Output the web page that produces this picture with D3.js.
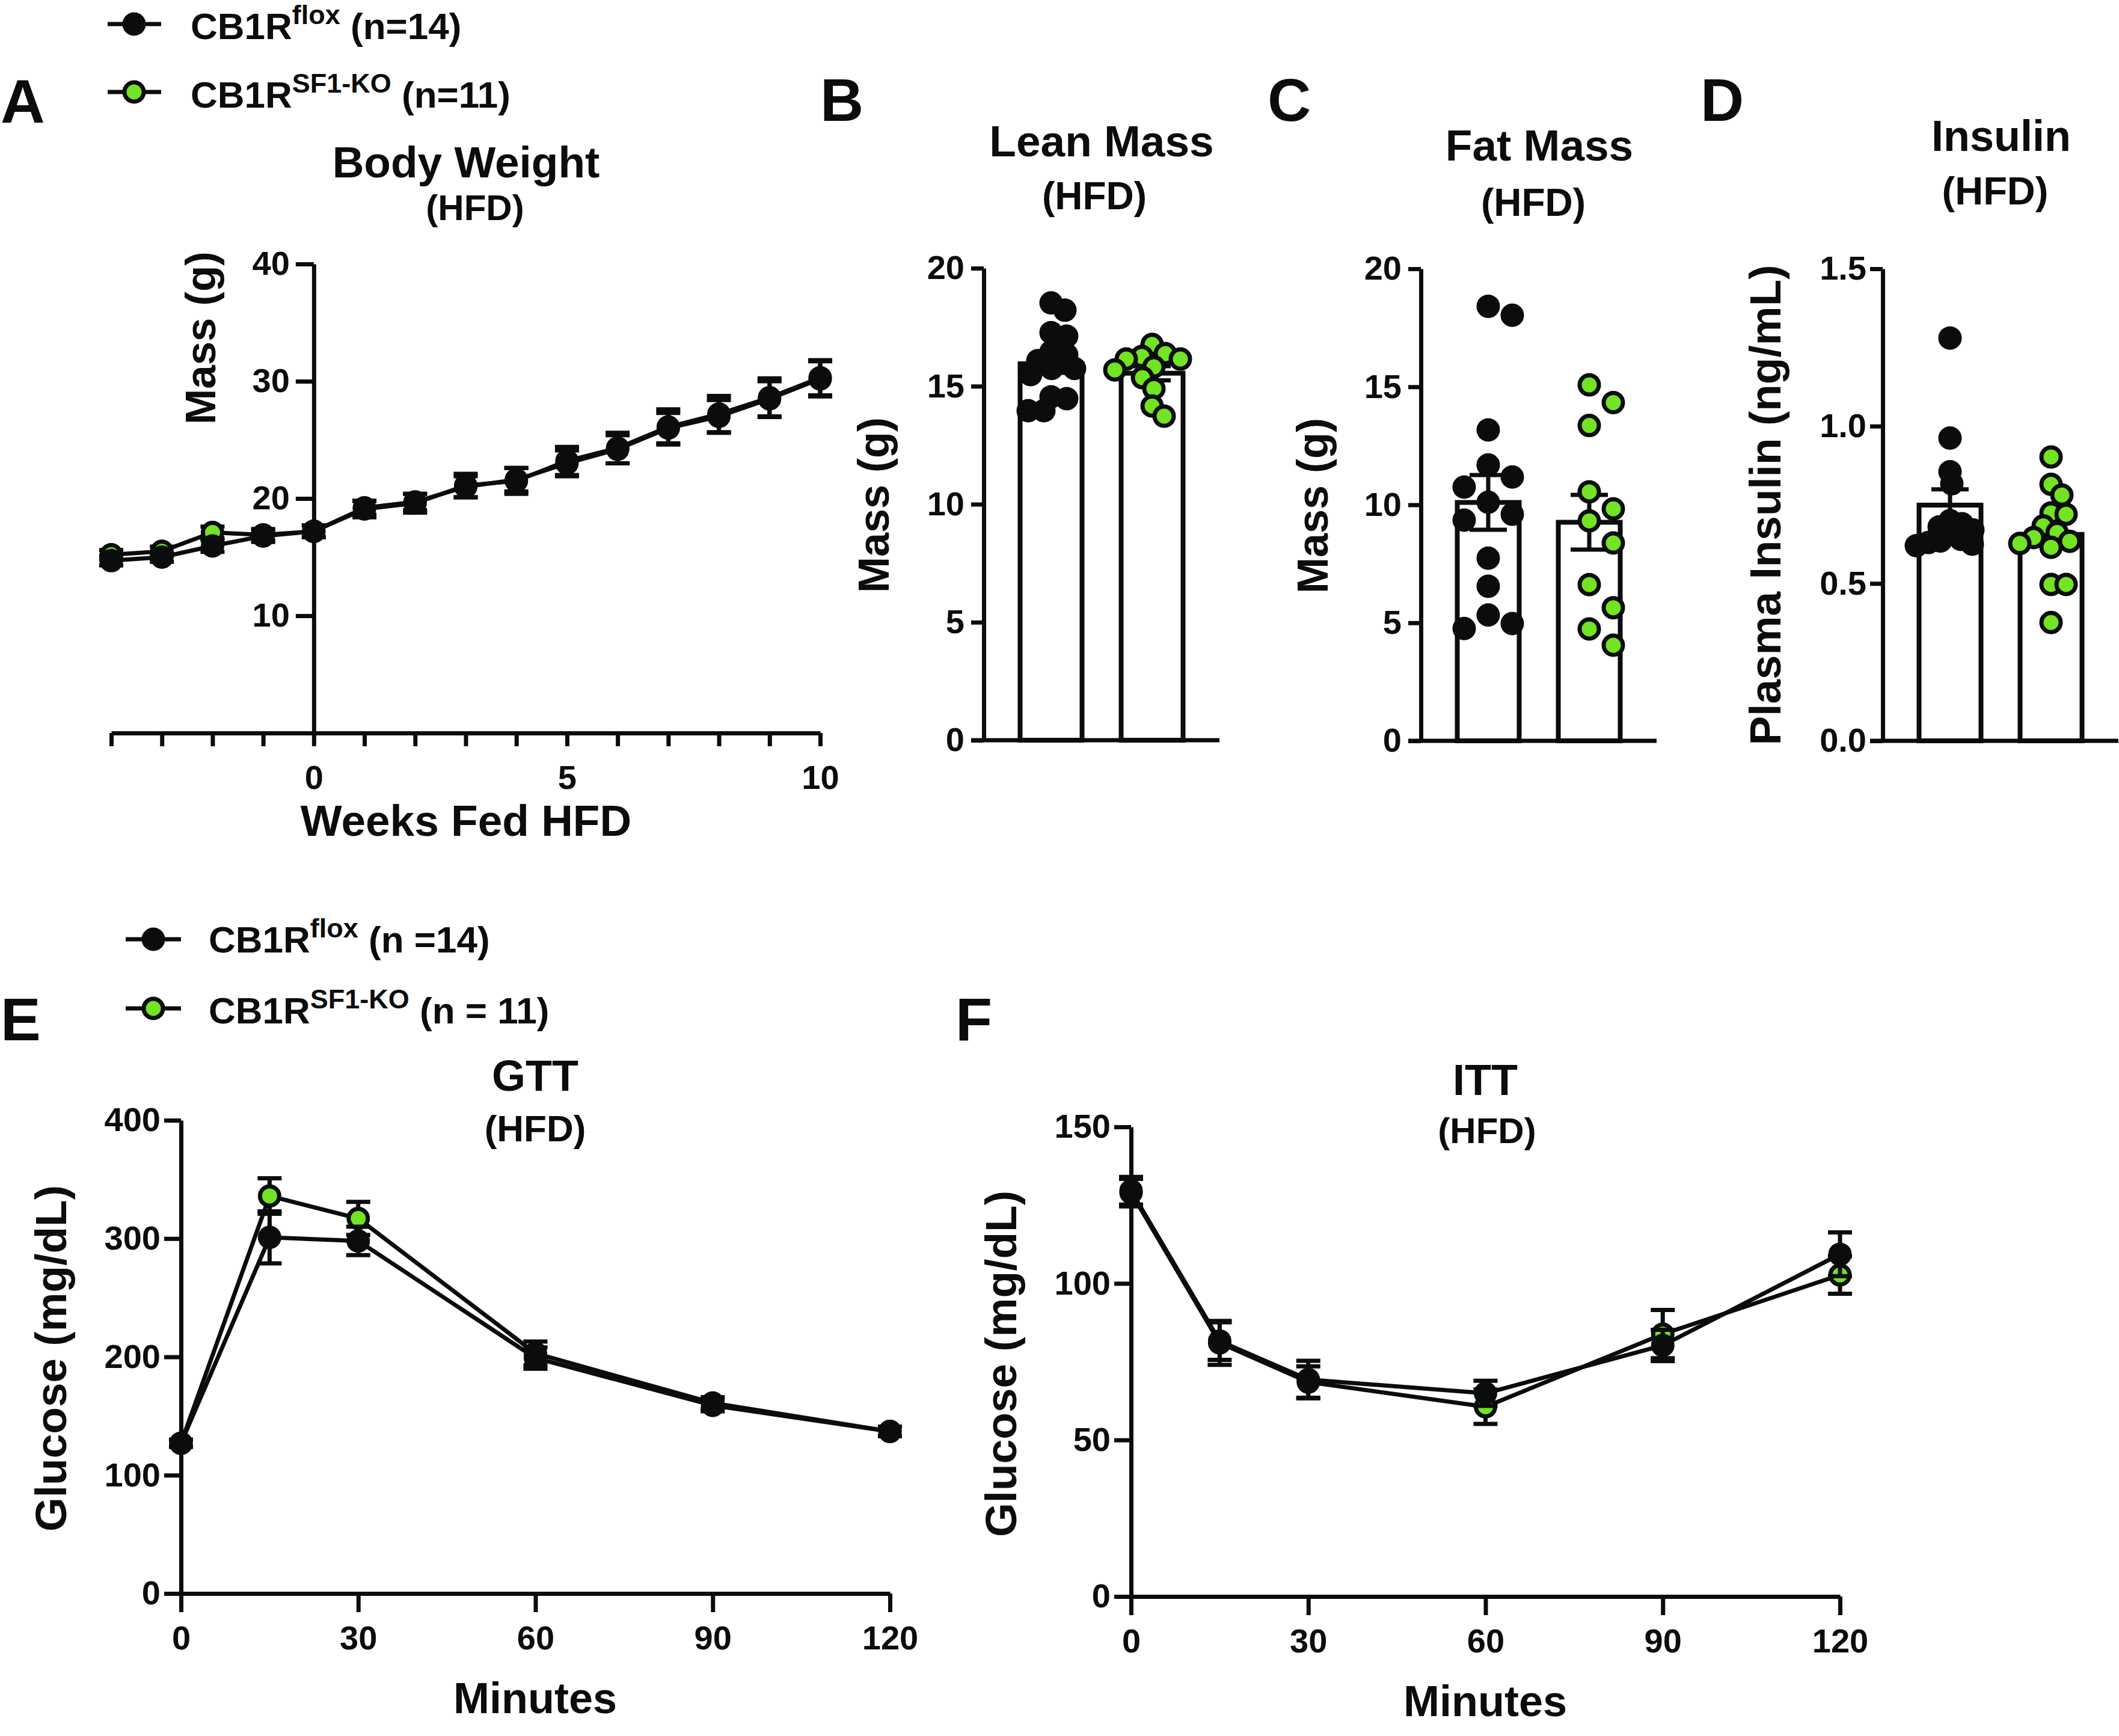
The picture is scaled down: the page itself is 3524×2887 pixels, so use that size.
<!DOCTYPE html>
<html>
<head>
<meta charset="utf-8">
<script src="https://cdn.jsdelivr.net/npm/d3@7"></script>
<style>
  html, body { margin: 0; padding: 0; background: #ffffff; }
  svg { display: block; }
</style>
</head>
<body>
<div id="chart"></div>
<script>
// ---------------- DATA ----------------
const groups = ["CB1R flox", "CB1R SF1-KO"];

// Panel A : body weight (HFD)
const weeks      = [-4, -3, -2, -1, 0, 1, 2, 3, 4, 5, 6, 7, 8, 9, 10];
const bwFlox     = [14.7, 15.0, 15.95, 16.8, 17.2, 19.1, 19.6, 21.1, 21.5, 23.2, 24.3, 26.1, 27.2, 28.6, 30.3];
const bwFloxSem  = [0.4, 0.4, 0.5, 0.5, 0.5, 0.7, 0.8, 1.0, 1.1, 1.2, 1.3, 1.5, 1.55, 1.65, 1.5];
const bwKO       = [15.2, 15.5, 17.1, 16.9, 17.2, 19.2, 19.7, 21.0, 21.6, 23.0, 24.2, 26.0, 27.0, 28.5, 30.2];
const bwKOSem    = [0.4, 0.4, 0.5, 0.5, 0.5, 0.6, 0.7, 0.9, 1.0, 1.1, 1.2, 1.3, 1.4, 1.5, 1.5];
const bwYTicks   = [10, 20, 30, 40];
const bwXLabels  = [0, 5, 10];

// Panel B : lean mass
const leanFlox = [18.53, 18.22, 17.27, 17.12, 16.46, 16.33, 16.08, 15.75, 15.75, 15.49, 14.55, 14.47, 13.96, 13.96];
const leanKO   = [16.77, 16.38, 16.26, 16.15, 16.15, 15.82, 15.69, 15.36, 14.9, 14.16, 13.73];
const leanMean = [15.95, 15.55];
const leanSem  = [0.38, 0.30];

// Panel C : fat mass
const fatFlox = [18.41, 18.03, 13.17, 11.69, 11.18, 10.75, 10.11, 9.6, 9.35, 7.74, 6.55, 5.33, 4.97, 4.76];
const fatKO   = [15.08, 14.33, 13.36, 10.55, 9.83, 9.32, 8.38, 6.62, 5.64, 4.74, 4.05];
const fatMean = [10.1, 9.26];
const fatSem  = [1.16, 1.16];
const massTicks = [0, 5, 10, 15, 20];

// Panel D : plasma insulin
const insFlox = [1.28, 0.962, 0.855, 0.817, 0.70, 0.69, 0.68, 0.67, 0.66, 0.64, 0.635, 0.63, 0.625, 0.62];
const insKO   = [0.902, 0.815, 0.781, 0.724, 0.720, 0.683, 0.662, 0.646, 0.634, 0.627, 0.615, 0.497, 0.497, 0.376];
const insMean = [0.749, 0.656];
const insSem  = [0.05, 0.035];
const insTicks = [0, 0.5, 1.0, 1.5];

// Panel E : GTT
const minutes    = [0, 15, 30, 60, 90, 120];
const gttFlox    = [127, 301, 298, 199, 159, 137];
const gttFloxSem = [3, 22, 12, 9, 5, 4];
const gttKO      = [127, 336, 317, 203, 161, 137];
const gttKOSem   = [3, 15, 14, 10, 5, 4];
const gttYTicks  = [0, 100, 200, 300, 400];

// Panel F : ITT
const ittFlox    = [129.6, 81.6, 69.3, 64.9, 80.2, 109.3];
const ittFloxSem = [4.4, 6, 6, 4, 5, 7];
const ittKO      = [129, 81, 68.5, 60.6, 83.8, 102.7];
const ittKOSem   = [4.4, 7, 5, 5.5, 7.7, 6];
const ittYTicks  = [0, 50, 100, 150];
const minuteTicks = [0, 30, 60, 90, 120];

// ---------------- STYLE ----------------
const W = 3524, H = 2887;
const FONT = "'Liberation Sans', Arial, Helvetica, sans-serif";
const BLACK = "#0b0c0c";
const GREEN = "#72e423";
const SW = 7;          // line / axis stroke width
const R = 16;          // marker radius (plus stroke)

const svg = d3.select("#chart").append("svg")
  .attr("width", W).attr("height", H)
  .attr("viewBox", `0 0 ${W} ${H}`)
  .style("font-family", FONT);
svg.append("rect").attr("width", W).attr("height", H).attr("fill", "#fff");

function txt(x, y, s, size, anchor = "middle") {
  return svg.append("text").attr("x", x).attr("y", y).text(s)
    .attr("font-size", size).attr("font-weight", "bold")
    .attr("fill", BLACK).attr("text-anchor", anchor);
}
function ylab(bx, cy, s, size) {
  svg.append("text").attr("transform", `translate(${bx},${cy}) rotate(-90)`)
    .attr("text-anchor", "middle").attr("font-size", size).attr("font-weight", "bold")
    .attr("fill", BLACK).text(s);
}
function styleAxis(g, fs = 56) {
  g.selectAll("path, line").attr("stroke", BLACK).attr("stroke-width", SW);
  g.selectAll("text").attr("font-size", fs).attr("font-weight", "bold")
    .attr("font-family", FONT).attr("fill", BLACK);
}
function legend(lx0, lx1, cx, tx, rows) {
  rows.forEach(r => {
    svg.append("line").attr("x1", lx0).attr("x2", lx1).attr("y1", r.cy).attr("y2", r.cy)
      .attr("stroke", BLACK).attr("stroke-width", SW);
    svg.append("circle").attr("cx", cx).attr("cy", r.cy).attr("r", R)
      .attr("fill", r.fill).attr("stroke", BLACK).attr("stroke-width", SW);
    const t = svg.append("text").attr("x", tx).attr("y", r.base)
      .attr("font-weight", "bold").attr("fill", BLACK).attr("font-size", 62);
    t.append("tspan").text(r.main);
    t.append("tspan").attr("font-size", 45).attr("dy", -25).text(r.sup);
    t.append("tspan").attr("font-size", 62).attr("dy", 25).text("\u00a0" + r.tail);
  });
}

// ------------- line chart helper -------------
function lineSeries(g, xs, ys, sems, x, y, fill, cap) {
  const pts = xs.map((t, i) => ({ t, v: ys[i], s: sems[i] }));
  g.append("path").datum(pts)
    .attr("d", d3.line().x(d => x(d.t)).y(d => y(d.v)))
    .attr("fill", "none").attr("stroke", BLACK).attr("stroke-width", SW).attr("stroke-linejoin", "round");
  const eb = g.append("g");
  pts.forEach(d => {
    eb.append("line").attr("x1", x(d.t)).attr("x2", x(d.t)).attr("y1", y(d.v - d.s)).attr("y2", y(d.v + d.s))
      .attr("stroke", BLACK).attr("stroke-width", SW);
    [d.v - d.s, d.v + d.s].forEach(e => eb.append("line")
      .attr("x1", x(d.t) - cap / 2).attr("x2", x(d.t) + cap / 2).attr("y1", y(e)).attr("y2", y(e))
      .attr("stroke", BLACK).attr("stroke-width", SW));
  });
  g.selectAll(null).data(pts).enter().append("circle")
    .attr("cx", d => x(d.t)).attr("cy", d => y(d.v)).attr("r", R)
    .attr("fill", fill).attr("stroke", BLACK).attr("stroke-width", SW);
}

// ================= PANEL A =================
{
  const x = d3.scaleLinear().domain([-4, 10]).range([185, 1364]);
  const y = d3.scaleLinear().domain([0, 40]).range([1219, 439]);
  const gx = svg.append("g").attr("transform", `translate(0,${y(0)})`)
    .call(d3.axisBottom(x).tickValues(weeks).tickFormat(d => bwXLabels.includes(d) ? d : "")
      .tickSize(22).tickPadding(31).tickSizeOuter(0));
  styleAxis(gx);
  const gy = svg.append("g").attr("transform", `translate(${x(0)},0)`)
    .call(d3.axisLeft(y).tickValues(bwYTicks).tickSize(30).tickPadding(10).tickSizeOuter(0));
  styleAxis(gy);
  const g = svg.append("g");
  lineSeries(g, weeks, bwKO, bwKOSem, x, y, GREEN, 40);
  lineSeries(g, weeks, bwFlox, bwFloxSem, x, y, BLACK, 40);
  txt(775, 295, "Body Weight", 73);
  txt(790, 366, "(HFD)", 60);
  ylab(358, 562, "Mass (g)", 71);
  txt(775, 1390, "Weeks Fed HFD", 73);
  legend(179, 268, 223, 317, [
    { cy: 40, base: 65, fill: BLACK, main: "CB1R", sup: "flox", tail: "(n=14)" },
    { cy: 153, base: 179, fill: GREEN, main: "CB1R", sup: "SF1-KO", tail: "(n=11)" }
  ]);
  txt(1, 204, "A", 102, "start");
}

// ------------- bar + scatter helper -------------
function swarm(vals, y, minDist, step, maxOff) {
  const order = vals.map((v, i) => i).sort((a, b) => vals[b] - vals[a]);
  const placed = [], xs = new Array(vals.length);
  for (const i of order) {
    const py = y(vals[i]);
    let best = null;
    for (let k = 0; k <= maxOff && best === null; k += step) {
      for (const s of (k === 0 ? [0] : [k, -k])) {
        if (placed.every(p => (p.x - s) ** 2 + (p.y - py) ** 2 >= minDist * minDist)) { best = s; break; }
      }
    }
    if (best === null) best = 0;
    xs[i] = best; placed.push({ x: best, y: py });
  }
  return xs;
}

function barPanel(o) {
  const y = d3.scaleLinear().domain(o.domain).range([o.y0, o.y1]);
  const x = d3.scaleBand().domain(groups).range([o.ax, o.ax + 392]).paddingInner(0.387).paddingOuter(0.36);
  const tick = 21;
  svg.append("line").attr("x1", o.ax - tick).attr("x2", o.ax + 392).attr("y1", y(0)).attr("y2", y(0))
    .attr("stroke", BLACK).attr("stroke-width", SW);
  const gy = svg.append("g").attr("transform", `translate(${o.ax},0)`)
    .call(d3.axisLeft(y).tickValues(o.ticks).tickFormat(o.fmt).tickSize(tick).tickPadding(o.pad).tickSizeOuter(0));
  styleAxis(gy);
  const sets = [o.flox, o.ko];
  const fills = [BLACK, GREEN];
  groups.forEach((gname, gi) => {
    const bx = x(gname), bw = x.bandwidth(), cx = bx + bw / 2;
    svg.append("rect").attr("x", bx).attr("y", y(o.mean[gi])).attr("width", bw)
      .attr("height", y(0) - y(o.mean[gi]))
      .attr("fill", "#fff").attr("stroke", BLACK).attr("stroke-width", 8);
    const lo = o.mean[gi] - o.sem[gi], hi = o.mean[gi] + o.sem[gi];
    svg.append("line").attr("x1", cx).attr("x2", cx).attr("y1", y(lo)).attr("y2", y(hi))
      .attr("stroke", BLACK).attr("stroke-width", SW);
    [lo, hi].forEach(e => svg.append("line").attr("x1", cx - 31).attr("x2", cx + 31)
      .attr("y1", y(e)).attr("y2", y(e)).attr("stroke", BLACK).attr("stroke-width", SW));
    const offs = swarm(sets[gi], y, o.minDist[gi], o.step, 90);
    svg.append("g").selectAll("circle").data(sets[gi]).enter().append("circle")
      .attr("cx", (d, i) => cx + offs[i]).attr("cy", d => y(d)).attr("r", R)
      .attr("fill", fills[gi]).attr("stroke", BLACK).attr("stroke-width", SW);
  });
}

// ================= PANEL B =================
barPanel({ ax: 1636, y0: 1231, y1: 446, domain: [0, 20], ticks: massTicks, fmt: d3.format("d"), pad: 11,
  flox: leanFlox, ko: leanKO, mean: leanMean, sem: leanSem, minDist: [26, 26], step: 1 });
txt(1832, 260, "Lean Mass", 73);
txt(1820, 348, "(HFD)", 64);
ylab(1478, 840, "Mass (g)", 72);
txt(1364, 201, "B", 100, "start");

// ================= PANEL C =================
barPanel({ ax: 2363, y0: 1232, y1: 447, domain: [0, 20], ticks: massTicks, fmt: d3.format("d"), pad: 11,
  flox: fatFlox, ko: fatKO, mean: fatMean, sem: fatSem, minDist: [40, 40], step: 40 });
txt(2560, 267, "Fat Mass", 73);
txt(2550, 359, "(HFD)", 64);
ylab(2208, 841, "Mass (g)", 72);
txt(2108, 201, "C", 100, "start");

// ================= PANEL D =================
barPanel({ ax: 3131, y0: 1232, y1: 447, domain: [0, 1.5], ticks: insTicks, fmt: d3.format(".1f"), pad: 6,
  flox: insFlox, ko: insKO, mean: insMean, sem: insSem, minDist: [20, 25], step: 1 });
txt(3328, 251, "Insulin", 72);
txt(3318, 340, "(HFD)", 65);
ylab(2961, 840, "Plasma Insulin (ng/mL)", 73);
txt(2828, 201, "D", 100, "start");

// ================= PANEL E =================
{
  const x = d3.scaleLinear().domain([0, 120]).range([301, 1480]);
  const y = d3.scaleLinear().domain([0, 400]).range([2650, 1863]);
  const gx = svg.append("g").attr("transform", `translate(0,${y(0)})`)
    .call(d3.axisBottom(x).tickValues(minuteTicks).tickSize(31).tickPadding(22).tickSizeOuter(0));
  styleAxis(gx);
  const gy = svg.append("g").attr("transform", `translate(${x(0)},0)`)
    .call(d3.axisLeft(y).tickValues(gttYTicks).tickSize(28).tickPadding(6).tickSizeOuter(0));
  styleAxis(gy);
  const g = svg.append("g");
  lineSeries(g, minutes, gttKO, gttKOSem, x, y, GREEN, 40);
  lineSeries(g, minutes, gttFlox, gttFloxSem, x, y, BLACK, 40);
  txt(890, 1814, "GTT", 72);
  txt(890, 1898, "(HFD)", 62);
  ylab(110, 2259, "Glucose (mg/dL)", 73);
  txt(890, 2849, "Minutes", 72);
  legend(209, 301, 255, 347, [
    { cy: 1562, base: 1584, fill: BLACK, main: "CB1R", sup: "flox", tail: "(n =14)" },
    { cy: 1677, base: 1702, fill: GREEN, main: "CB1R", sup: "SF1-KO", tail: "(n = 11)" }
  ]);
  txt(1, 1730, "E", 100, "start");
}

// ================= PANEL F =================
{
  const x = d3.scaleLinear().domain([0, 120]).range([1881, 3060]);
  const y = d3.scaleLinear().domain([0, 150]).range([2655, 1874]);
  const gx = svg.append("g").attr("transform", `translate(0,${y(0)})`)
    .call(d3.axisBottom(x).tickValues(minuteTicks).tickSize(31).tickPadding(22).tickSizeOuter(0));
  styleAxis(gx);
  const gy = svg.append("g").attr("transform", `translate(${x(0)},0)`)
    .call(d3.axisLeft(y).tickValues(ittYTicks).tickSize(28).tickPadding(6).tickSizeOuter(0));
  styleAxis(gy);
  const g = svg.append("g");
  lineSeries(g, minutes, ittKO, ittKOSem, x, y, GREEN, 40);
  lineSeries(g, minutes, ittFlox, ittFloxSem, x, y, BLACK, 40);
  txt(2470, 1821, "ITT", 72);
  txt(2473, 1901, "(HFD)", 60);
  ylab(1690, 2268, "Glucose (mg/dL)", 73);
  txt(2470, 2854, "Minutes", 72);
  txt(1589, 1730, "F", 100, "start");
}
</script>
</body>
</html>
